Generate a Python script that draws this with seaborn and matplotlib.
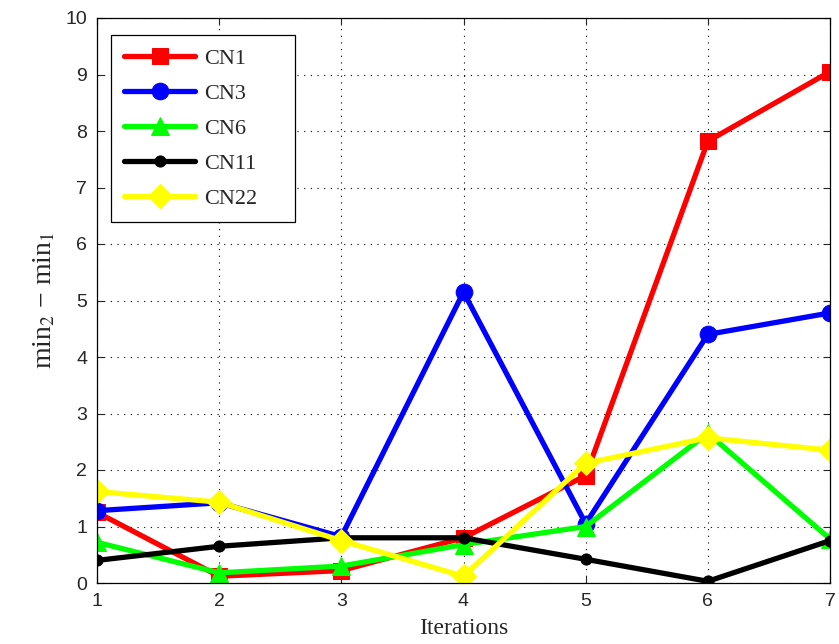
import pandas as pd
import seaborn as sns
import matplotlib.pyplot as plt

iterations = [1, 2, 3, 4, 5, 6, 7]
cn1 = [1.25, 0.12, 0.22, 0.80, 1.90, 7.82, 9.05]
cn3 = [1.28, 1.42, 0.82, 5.15, 1.05, 4.40, 4.78]
cn6 = [0.72, 0.18, 0.30, 0.68, 1.00, 2.65, 0.78]
cn11 = [0.40, 0.65, 0.80, 0.80, 0.42, 0.03, 0.75]
cn22 = [1.62, 1.43, 0.75, 0.12, 2.12, 2.57, 2.35]

series = ["CN1", "CN3", "CN6", "CN11", "CN22"]
values = [cn1, cn3, cn6, cn11, cn22]
colores = ["#ff0000", "#0000ff", "#00ff00", "#000000", "#ffff00"]
marcadores = ["s", "o", "^", "o", "D"]
tamanos = [12, 12, 13, 8, 12]

sns.set_style("ticks")
plt.rcParams["font.family"] = ["Liberation Sans", "DejaVu Sans"]
plt.rcParams["mathtext.fontset"] = "stix"

fig, ax = plt.subplots(figsize=(8.39, 6.44), dpi=100)
fig.subplots_adjust(left=97 / 839, right=830 / 839, top=1 - 18 / 644, bottom=1 - 583 / 644)

for nombre, vals, c, m, ms in zip(series, values, colores, marcadores, tamanos):
    df = pd.DataFrame({"x": iterations, "y": vals})
    sns.lineplot(data=df, x="x", y="y", ax=ax, color=c, marker=m, markersize=ms,
                 markeredgecolor=c, markerfacecolor=c, linewidth=3.8, label=nombre)

ax.set_xlim(1, 7)
ax.set_ylim(0, 10)
ax.set_xticks(range(1, 8))
ax.set_yticks(range(0, 11))
ax.grid(True, linestyle=(0, (1, 5)), color="black", linewidth=0.8)
ax.tick_params(direction="in", top=True, right=True, labelsize=14, length=5, width=0.8, pad=7)
for s in ax.spines.values():
    s.set_color("black")
    s.set_linewidth(0.9)

ax.set_xlabel("Iterations", family="Liberation Serif", fontsize=17, labelpad=6)
ax.set_ylabel("min$_2$ − min$_1$", family="Liberation Serif", fontsize=20, labelpad=6)

leg = ax.legend(loc="upper left", bbox_to_anchor=(0.019, 0.970, 0.251, 0.0), mode="expand",
                borderaxespad=0, prop={"family": "Liberation Serif", "size": 16},
                handlelength=3.2, handletextpad=0.4, fancybox=False, framealpha=1,
                edgecolor="black", borderpad=0.6, labelspacing=0.65)
leg.get_frame().set_linewidth(0.9)

plt.savefig("out.png", dpi=100)
